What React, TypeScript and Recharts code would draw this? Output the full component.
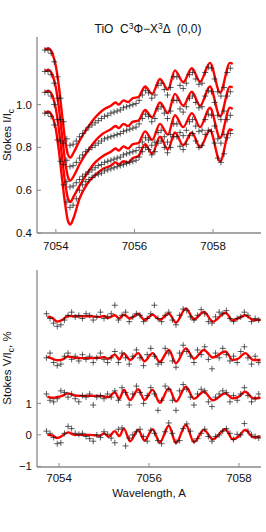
import { ComposedChart, Line, Scatter, XAxis, YAxis } from 'recharts';

// observed wavelength grid (A)
const OBS_WL = [
  7053.72, 7053.8, 7053.88, 7053.96, 7054.04, 7054.12, 7054.2, 7054.28, 7054.36, 7054.44,
  7054.52, 7054.6, 7054.68, 7054.76, 7054.84, 7054.92, 7055.0, 7055.08, 7055.16, 7055.24,
  7055.32, 7055.4, 7055.48, 7055.56, 7055.64, 7055.72, 7055.8, 7055.88, 7055.96, 7056.04,
  7056.12, 7056.2, 7056.28, 7056.36, 7056.44, 7056.52, 7056.6, 7056.68, 7056.76, 7056.84,
  7056.92, 7057.0, 7057.08, 7057.16, 7057.24, 7057.32, 7057.4, 7057.48, 7057.56, 7057.64,
  7057.72, 7057.8, 7057.88, 7057.96, 7058.04, 7058.12, 7058.2, 7058.28, 7058.36, 7058.44,
];

// Stokes I/Ic observed, four positions
const TOP_OBS_1 = [
  1.255, 1.255, 1.24, 1.2, 1.13, 1.03, 0.92, 0.84, 0.81, 0.815,
  0.83, 0.85, 0.865, 0.88, 0.895, 0.905, 0.915, 0.925, 0.935, 0.945,
  0.95, 0.96, 0.965, 0.97, 0.975, 0.985, 0.99, 0.995, 1.0, 1.005,
  1.02, 1.045, 1.065, 1.055, 1.03, 1.045, 1.09, 1.1, 1.07, 1.045,
  1.08, 1.13, 1.13, 1.09, 1.075, 1.1, 1.14, 1.15, 1.12, 1.095,
  1.1, 1.15, 1.175, 1.17, 1.12, 1.06, 1.04, 1.08, 1.15, 1.17,
];
const TOP_OBS_2 = [
  1.155, 1.155, 1.14, 1.1, 1.03, 0.93, 0.82, 0.74, 0.71, 0.715,
  0.73, 0.75, 0.765, 0.78, 0.79, 0.8, 0.81, 0.82, 0.83, 0.84,
  0.845, 0.85, 0.855, 0.86, 0.865, 0.875, 0.88, 0.885, 0.89, 0.895,
  0.91, 0.935, 0.955, 0.945, 0.92, 0.935, 0.98, 0.99, 0.96, 0.935,
  0.97, 1.02, 1.02, 0.98, 0.965, 0.99, 1.03, 1.04, 1.01, 0.985,
  0.99, 1.04, 1.065, 1.06, 1.01, 0.95, 0.93, 0.97, 1.04, 1.06,
];
const TOP_OBS_3 = [
  1.057, 1.057, 1.04, 1.0, 0.93, 0.83, 0.72, 0.64, 0.615, 0.62,
  0.635, 0.65, 0.665, 0.675, 0.685, 0.695, 0.705, 0.715, 0.72, 0.73,
  0.735, 0.74, 0.745, 0.75, 0.755, 0.765, 0.77, 0.775, 0.78, 0.785,
  0.8, 0.825, 0.845, 0.835, 0.81, 0.825, 0.87, 0.88, 0.85, 0.825,
  0.86, 0.91, 0.91, 0.87, 0.855, 0.88, 0.92, 0.93, 0.9, 0.875,
  0.88, 0.93, 0.955, 0.95, 0.9, 0.84, 0.82, 0.86, 0.93, 0.95,
];
const TOP_OBS_4 = [
  0.96, 0.96, 0.945, 0.905, 0.835, 0.735, 0.625, 0.545, 0.52, 0.53,
  0.56, 0.6, 0.625, 0.64, 0.65, 0.66, 0.67, 0.675, 0.68, 0.69,
  0.695, 0.7, 0.705, 0.71, 0.715, 0.72, 0.725, 0.73, 0.735, 0.74,
  0.755, 0.78, 0.8, 0.79, 0.765, 0.78, 0.82, 0.83, 0.8, 0.775,
  0.8, 0.85, 0.85, 0.805, 0.79, 0.815, 0.855, 0.865, 0.83, 0.8,
  0.81, 0.86, 0.88, 0.875, 0.82, 0.75, 0.73, 0.77, 0.845, 0.865,
];

// Stokes I/Ic synthetic fits
const TOP_MODEL_WL = [
  7053.72, 7053.82, 7053.92, 7054.0, 7054.08, 7054.16, 7054.24, 7054.31, 7054.37, 7054.45,
  7054.6, 7054.8, 7055.0, 7055.2, 7055.4, 7055.52, 7055.6, 7055.72, 7055.84, 7055.96,
  7056.1, 7056.27, 7056.45, 7056.65, 7056.85, 7057.03, 7057.24, 7057.46, 7057.67, 7057.92,
  7058.18, 7058.43, 7058.5,
];
const TOP_MODEL_1 = [
  1.258, 1.262, 1.235, 1.18, 1.08, 0.95, 0.83, 0.765, 0.752, 0.775,
  0.83, 0.89, 0.94, 0.975, 0.995, 1.01, 1.0, 1.02, 1.012, 1.03,
  1.035, 1.085, 1.05, 1.12, 1.07, 1.16, 1.105, 1.17, 1.107, 1.195,
  1.056, 1.195, 1.19,
];
const TOP_MODEL_2 = [
  1.158, 1.162, 1.135, 1.08, 0.98, 0.85, 0.73, 0.66, 0.645, 0.665,
  0.72, 0.78, 0.83, 0.865, 0.885, 0.9, 0.89, 0.91, 0.9, 0.92,
  0.925, 0.975, 0.94, 1.01, 0.96, 1.05, 0.995, 1.06, 0.995, 1.085,
  0.945, 1.084, 1.08,
];
const TOP_MODEL_3 = [
  1.06, 1.064, 1.037, 0.98, 0.88, 0.75, 0.63, 0.56, 0.545, 0.57,
  0.62, 0.68, 0.73, 0.76, 0.78, 0.795, 0.785, 0.805, 0.795, 0.815,
  0.82, 0.875, 0.835, 0.91, 0.86, 0.95, 0.895, 0.96, 0.895, 0.985,
  0.845, 0.986, 0.98,
];
const TOP_MODEL_4 = [
  0.963, 0.967, 0.94, 0.885, 0.78, 0.65, 0.53, 0.455, 0.44, 0.47,
  0.56, 0.63, 0.67, 0.7, 0.715, 0.73, 0.72, 0.735, 0.73, 0.75,
  0.76, 0.815, 0.77, 0.85, 0.79, 0.87, 0.81, 0.87, 0.8, 0.88,
  0.735, 0.884, 0.88,
];

// Stokes V/Ic (%) observed, offset for display
const BOT_OBS_0 = [
  0.12, 0.05, -0.08, -0.28, -0.25, 0.05, 0.27, 0.2, 0.05, 0.02,
  0.05, -0.05, -0.12, -0.2, 0.0, -0.08, 0.1, 0.02, -0.1, -0.25,
  0.18, 0.22, -0.35, -0.1, 0.0, 0.1, 0.18, -0.05, -0.2, 0.15,
  0.05, -0.18, -0.28, 0.1, 0.38, 0.05, -0.22, -0.18, 0.2, 0.35,
  0.12, -0.2, -0.12, 0.05, 0.18, -0.05, -0.2, -0.05, 0.0, 0.12,
  0.2, 0.05, -0.15, 0.02, 0.0, 0.36, 0.12, 0.0, -0.05, -0.1,
];
const BOT_OBS_1 = [
  1.3, 1.1, 1.05, 1.15, 1.4, 1.35, 1.2, 1.3, 1.15, 1.05,
  1.25, 1.2, 1.3, 0.95, 1.2, 1.25, 1.15, 1.3, 1.2, 1.4,
  1.1, 1.5, 1.35, 0.95, 1.3, 1.55, 1.35, 1.0, 1.25, 1.5,
  1.3, 0.78, 1.1, 1.55, 1.45, 1.1, 0.78, 1.4, 1.6, 1.45,
  1.2, 0.95, 1.3, 1.45, 1.4, 1.05, 0.9, 1.2, 1.3, 1.4,
  1.35, 1.05, 1.25, 1.1, 1.3, 1.5, 1.25, 1.05, 1.15, 1.3,
];
const BOT_OBS_2 = [
  2.45, 2.6, 2.3, 2.2, 2.25, 2.5, 2.6, 2.4, 2.5, 2.35,
  2.55, 2.4, 2.5, 2.3, 2.45, 2.6, 2.4, 2.3, 2.45, 2.65,
  2.3, 2.6, 2.45, 2.25, 2.5, 2.7, 2.45, 2.2, 2.55, 2.75,
  2.5, 2.25, 2.3, 2.75, 2.6, 2.35, 2.15, 2.6, 2.85, 2.65,
  2.5, 2.3, 2.7, 2.55, 2.8, 2.4, 2.1, 2.6, 2.45, 2.75,
  2.55, 2.35, 2.5, 2.3, 2.65, 2.8, 2.45, 2.25, 2.5, 2.3,
];
const BOT_OBS_3 = [
  3.85, 3.7, 3.55, 3.45, 3.5, 3.65, 3.8, 3.9, 3.75, 3.8,
  3.7, 3.85, 3.8, 3.65, 3.75, 3.9, 3.7, 3.75, 3.85, 4.12,
  3.65, 3.8, 3.9, 3.6, 3.75, 3.85, 3.8, 3.6, 3.7, 3.85,
  4.12, 3.7, 3.6, 3.8, 3.9, 3.65, 3.5, 3.8, 4.0, 3.95,
  3.75, 3.65, 3.8, 3.98, 3.85, 3.6, 3.55, 3.75, 3.9, 3.85,
  3.95, 3.7, 3.6, 3.7, 3.75, 3.9, 3.8, 3.6, 3.7, 3.65,
];

// Stokes V/Ic (%) fits
const BOT_MODEL_WL = [
  7053.74, 7053.85, 7053.96, 7054.08, 7054.2, 7054.35, 7054.5, 7054.7, 7054.9, 7055.0,
  7055.1, 7055.24, 7055.34, 7055.44, 7055.58, 7055.76, 7055.9, 7056.08, 7056.24, 7056.44,
  7056.6, 7056.82, 7057.0, 7057.22, 7057.42, 7057.7, 7057.86, 7057.98, 7058.14, 7058.32,
  7058.48,
];
const BOT_MODEL_0 = [
  0.0, -0.02, -0.1, -0.02, 0.08, 0.0, 0.0, 0.0, -0.03, 0.05,
  -0.06, 0.12, -0.04, 0.2, -0.2, 0.16, -0.18, 0.18, -0.24, 0.29,
  -0.26, 0.32, -0.23, 0.16, -0.14, 0.18, -0.14, -0.07, 0.16, -0.08,
  -0.05,
];
const BOT_MODEL_1 = [
  1.22, 1.18, 1.2, 1.25, 1.32, 1.25, 1.24, 1.24, 1.24, 1.22,
  1.2, 1.36, 1.14, 1.43, 1.11, 1.45, 1.11, 1.43, 1.02, 1.48,
  1.06, 1.53, 1.15, 1.37, 1.1, 1.32, 1.16, 1.2, 1.37, 1.16,
  1.18,
];
const BOT_MODEL_2 = [
  2.49, 2.42, 2.37, 2.4, 2.49, 2.45, 2.44, 2.44, 2.45, 2.47,
  2.42, 2.55, 2.4, 2.59, 2.38, 2.6, 2.34, 2.6, 2.32, 2.7,
  2.28, 2.75, 2.42, 2.7, 2.46, 2.65, 2.38, 2.42, 2.6, 2.38,
  2.38,
];
const BOT_MODEL_3 = [
  3.76, 3.72, 3.6, 3.66, 3.78, 3.77, 3.77, 3.77, 3.75, 3.78,
  3.72, 3.8, 3.7, 3.82, 3.7, 3.85, 3.65, 3.82, 3.66, 3.86,
  3.57, 4.02, 3.67, 3.91, 3.6, 3.88, 3.64, 3.7, 3.8, 3.65,
  3.66,
];

const X_TICKS = [7054, 7056, 7058];
const TOP_Y_TICKS = [0.4, 0.6, 0.8, 1.0];
const BOT_Y_TICKS = [-1, 0, 1];

const toPoints = (xs: number[], ys: number[]) => xs.map((x, i) => ({ x, y: ys[i] }));

const topObs = [TOP_OBS_1, TOP_OBS_2, TOP_OBS_3, TOP_OBS_4].map(s => toPoints(OBS_WL, s));
const topModel = [TOP_MODEL_1, TOP_MODEL_2, TOP_MODEL_3, TOP_MODEL_4].map(s => toPoints(TOP_MODEL_WL, s));
const botObs = [BOT_OBS_0, BOT_OBS_1, BOT_OBS_2, BOT_OBS_3].map(s => toPoints(OBS_WL, s));
const botModel = [BOT_MODEL_0, BOT_MODEL_1, BOT_MODEL_2, BOT_MODEL_3].map(s => toPoints(BOT_MODEL_WL, s));

const FONT = '"Liberation Sans", Arial, sans-serif';
const FRAME = '#8a8a8a';
const tickStyle = { fontSize: 11.5, fill: '#111', fontFamily: FONT };

const Plus = (props: any) => {
  const { cx, cy } = props;
  if (cx == null || cy == null) return <g />;
  return (
    <path
      d={`M${cx - 3},${cy}h6M${cx},${cy - 3}v6`}
      stroke="#1a1a1a"
      strokeOpacity={0.7}
      strokeWidth={1}
      fill="none"
    />
  );
};

const minus = (v: number) => (v < 0 ? `\u2212${Math.abs(v)}` : `${v}`);

function Panel(props: {
  height: number;
  margin: { top: number; right: number; left: number; bottom: number };
  xDomain: [number, number];
  yDomain: [number, number];
  yTicks: number[];
  yFormat: (v: number) => string;
  xAxisHeight: number;
  xTickMargin: number;
  obs: { x: number; y: number }[][];
  model: { x: number; y: number }[][];
}) {
  return (
    <ComposedChart width={266} height={props.height} margin={props.margin}>
      <XAxis
        type="number"
        dataKey="x"
        domain={props.xDomain}
        ticks={X_TICKS}
        interval={0}
        height={props.xAxisHeight}
        tickSize={-4}
        tickMargin={props.xTickMargin}
        tick={tickStyle}
        axisLine={{ stroke: FRAME, strokeWidth: 1.3 }}
        tickLine={{ stroke: FRAME }}
        allowDataOverflow
      />
      <XAxis
        xAxisId="top"
        orientation="top"
        type="number"
        domain={props.xDomain}
        ticks={X_TICKS}
        interval={0}
        height={0}
        tickSize={-4}
        tick={false}
        axisLine={{ stroke: FRAME, strokeWidth: 1.3 }}
        tickLine={{ stroke: FRAME }}
        allowDataOverflow
      />
      <YAxis
        type="number"
        dataKey="y"
        domain={props.yDomain}
        ticks={props.yTicks}
        interval={0}
        width={37}
        tickSize={-4}
        tickMargin={9}
        tick={tickStyle}
        tickFormatter={props.yFormat}
        axisLine={{ stroke: FRAME, strokeWidth: 1.3 }}
        tickLine={{ stroke: FRAME }}
        allowDataOverflow
      />
      <YAxis
        yAxisId="right"
        orientation="right"
        type="number"
        domain={props.yDomain}
        ticks={props.yTicks}
        interval={0}
        width={0}
        tickSize={-4}
        tick={false}
        axisLine={{ stroke: FRAME, strokeWidth: 1.3 }}
        tickLine={{ stroke: FRAME }}
        allowDataOverflow
      />
      {props.obs.map((d, i) => (
        <Scatter key={`obs-${i}`} data={d} dataKey="y" shape={Plus} isAnimationActive={false} />
      ))}
      {props.model.map((d, i) => (
        <Line
          key={`fit-${i}`}
          data={d}
          dataKey="y"
          type="monotone"
          stroke="#ff0000"
          strokeWidth={2.4}
          dot={false}
          activeDot={false}
          isAnimationActive={false}
        />
      ))}
    </ComposedChart>
  );
}

export default function App() {
  return (
    <div style={{ position: 'absolute', left: 0, top: 0, width: 266, height: 532, background: '#fff' }}>
      <Panel
        height={260}
        margin={{ top: 37, right: 5, left: 0, bottom: 0 }}
        xDomain={[7053.52, 7059.22]}
        yDomain={[0.4, 1.316]}
        yTicks={TOP_Y_TICKS}
        yFormat={(v: number) => v.toFixed(1)}
        xAxisHeight={27}
        xTickMargin={13}
        obs={topObs}
        model={topModel}
      />
      <Panel
        height={272}
        margin={{ top: 10, right: 5, left: 0, bottom: 35 }}
        xDomain={[7053.51, 7058.49]}
        yDomain={[-1.02, 5.24]}
        yTicks={BOT_Y_TICKS}
        yFormat={minus}
        xAxisHeight={30}
        xTickMargin={11}
        obs={botObs}
        model={botModel}
      />
      <svg
        width={266}
        height={532}
        style={{ position: 'absolute', left: 0, top: 0, pointerEvents: 'none' }}
        fontFamily={FONT}
        fill="#111"
      >
        <text x={148} y={33} textAnchor="middle" fontSize={12} style={{ whiteSpace: 'pre' }}>
          {'TiO  C'}
          <tspan fontSize={8.5} dy={-4.5}>3</tspan>
          <tspan dy={4.5}>Φ−X</tspan>
          <tspan fontSize={8.5} dy={-4.5}>3</tspan>
          <tspan dy={4.5}>{'Δ  (0,0)'}</tspan>
        </text>
        <text x={11} y={135} textAnchor="middle" fontSize={11.5} transform="rotate(-90 11 135)">
          Stokes I/I<tspan fontSize={8.5} dy={2.5}>c</tspan>
        </text>
        <text x={11} y={368} textAnchor="middle" fontSize={11.5} transform="rotate(-90 11 368)">
          Stokes V/I<tspan fontSize={8.5} dy={2.5}>c</tspan>
          <tspan dy={-2.5}>, %</tspan>
        </text>
        <text x={149} y={497} textAnchor="middle" fontSize={11.5}>
          Wavelength, A
        </text>
      </svg>
    </div>
  );
}
